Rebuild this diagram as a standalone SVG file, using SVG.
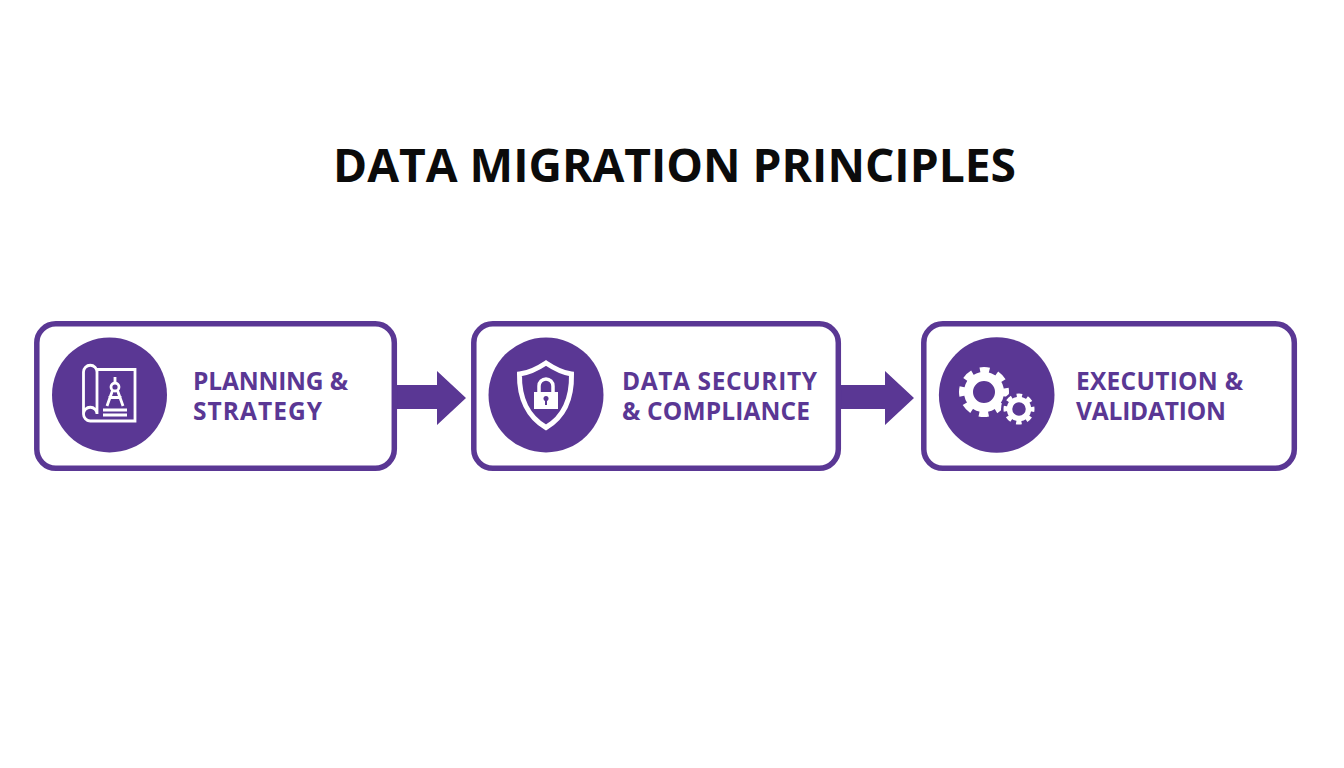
<svg xmlns="http://www.w3.org/2000/svg" width="1344" height="768" viewBox="0 0 1344 768">
<style>
.box{fill:#fff;stroke:#5a3794;stroke-width:5.5}
.disc{fill:#5a3794}
.arrow{fill:#5a3794}
.lbl{font-family:"Open Sans","Noto Sans",sans-serif;font-weight:700;font-size:24.5px;fill:#5a3794}
.ttl{font-family:"Open Sans","Noto Sans",sans-serif;font-weight:700;font-size:46.2px;fill:#0b0b0b}
.ln{fill:none;stroke:#fff;stroke-width:2.800;stroke-linejoin:miter}
</style>
<rect width="1344" height="768" fill="#fff"/>
<text id="title" class="ttl" x="674.500" y="182" text-anchor="middle">DATA MIGRATION PRINCIPLES</text>
<g id="connectors">
<polygon class="arrow" points="394,385 437,385 437,371 466,398 437,425 437,409 394,409"/>
<polygon class="arrow" points="838,385 885,385 885,371 914,398 885,425 885,409 838,409"/>
</g>
<g id="node-planning">
<rect class="box" x="36.800" y="323.800" width="357.500" height="144.500" rx="19"/>
<circle class="disc" cx="109.500" cy="395" r="57.500"/>
<path class="ln" d="M97 369.500H135V421H90M97 369.500V414M83.500 414V372A6.750 6.750 0 0 1 97 372M83.500 414A7 7 0 0 0 90 421M83.500 414A6.750 6.750 0 0 1 97 414"/>
<circle class="ln" cx="115" cy="387" r="4"/>
<path class="ln" d="M115 377V383M112.500 390.500L107 406M117.500 390.500L123 406M108.500 397.500H121.500M103 410H127M103 415H127"/>
<text class="lbl" x="193" y="390" textLength="155" lengthAdjust="spacing">PLANNING &amp;</text>
<text class="lbl" x="193" y="420" textLength="129" lengthAdjust="spacing">STRATEGY</text>
</g>
<g id="node-security">
<rect class="box" x="473.800" y="323.800" width="364.500" height="144.500" rx="19"/>
<circle class="disc" cx="546" cy="395" r="57.500"/>
<path d="M546 363C555 369 563 373 571.500 374C572 398 564 417 546 427.500C528 417 519 398 519.500 374C529 373 537 369 546 363Z" fill="none" stroke="#fff" stroke-width="5"/>
<path d="M539 392V386A7 7 0 0 1 553 386V392" fill="none" stroke="#fff" stroke-width="3.500"/>
<path d="M534 392H558V409H534Z" fill="#fff"/>
<circle cx="546" cy="398.500" r="2.500" class="disc"/>
<rect x="545" y="399" width="2" height="6" class="disc"/>
<text class="lbl" x="622" y="390" textLength="195" lengthAdjust="spacing">DATA SECURITY</text>
<text class="lbl" x="622" y="420" textLength="188" lengthAdjust="spacing">&amp; COMPLIANCE</text>
</g>
<g id="node-execution">
<rect class="box" x="923.800" y="323.800" width="370.500" height="144.500" rx="19"/>
<circle class="disc" cx="996.700" cy="395" r="57.800"/>
<circle cx="984" cy="392" r="15.500" fill="none" stroke="#fff" stroke-width="9"/>
<circle cx="984" cy="392" r="22" fill="none" stroke="#fff" stroke-width="6" stroke-dasharray="9.500 7.780" stroke-dashoffset="4.750"/>
<circle cx="1019" cy="409" r="18" class="disc"/>
<circle cx="1019" cy="409" r="9.500" fill="none" stroke="#fff" stroke-width="5.500"/>
<circle cx="1019" cy="409" r="13.500" fill="none" stroke="#fff" stroke-width="4" stroke-dasharray="5.500 5.100" stroke-dashoffset="2.750"/>
<text class="lbl" x="1076" y="390" textLength="167" lengthAdjust="spacing">EXECUTION &amp;</text>
<text class="lbl" x="1076" y="420" textLength="150" lengthAdjust="spacing">VALIDATION</text>
</g>
</svg>
